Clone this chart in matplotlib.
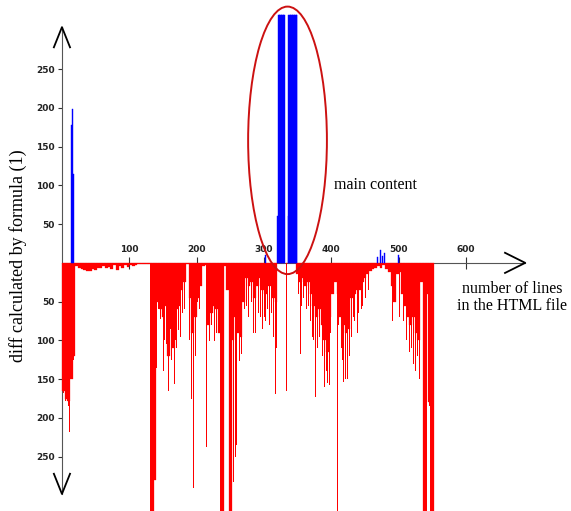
import matplotlib.pyplot as plt
from matplotlib.patches import Ellipse

# red profile: one value every 4 lines (diff below the axis)
red_start = 0
red_step = 4
red_diff = [165, 176, 178, 150, 120, 4, 6, 8, 9, 10, 10, 8, 9, 7, 6, 4, 7, 5, 8, 3,
            9, 4, 6, 3, 5, 3, 4, 3, 1, 1, 1, 1, 1, 330, 280, 50, 60, 70, 55, 120,
            80, 110, 60, 55, 35, 25, 2, 45, 90, 70, 45, 30, 4, 3, 80, 65, 55, 60, 90, 330,
            4, 35, 330, 100, 70, 90, 95, 50, 20, 30, 25, 45, 30, 20, 35, 40, 30, 30, 45, 50,
            0, 0, 0, 0, 0, 0, 0, 15, 25, 20, 30, 25, 40, 55, 70, 60, 80, 100, 115, 70,
            40, 25, 40, 70, 80, 90, 85, 45, 40, 35, 35, 25, 20, 15, 10, 8, 6, 4, 6, 3,
            8, 12, 30, 50, 15, 12, 40, 55, 70, 80, 70, 90, 100, 25, 330, 40, 180, 330]

# single lines that stick out of the profile
spike_lines = [2, 5, 9, 11, 17, 131, 133, 137, 139, 142, 145, 150, 152, 154, 157, 160, 162, 166,
               168, 170, 173, 175, 178, 181, 189, 191, 194, 196, 198, 201, 203, 214, 219, 222,
               226, 229, 234, 237, 249, 254, 257, 259, 263, 266, 271, 274, 277, 281, 284, 286,
               287, 291, 294, 297, 300, 302, 305, 308, 310, 313, 317, 318, 333, 350, 353, 355,
               358, 362, 366, 369, 371, 373, 376, 379, 382, 386, 389, 392, 394, 396, 398, 408,
               410, 414, 416, 418, 420, 421, 423, 424, 426, 429, 432, 434, 438, 440, 444, 446,
               450, 454, 490, 500, 506, 511, 515, 519, 521, 525, 527, 530, 536, 541, 545, 547]
spike_diff = [168, 178, 185, 218, 125, 330, 330, 278, 135, 60, 73, 140, 100, 105, 165, 85, 125, 156,
              99, 110, 86, 95, 65, 60, 100, 175, 290, 60, 120, 50, 60, 237, 101, 80,
              101, 90, 330, 330, 330, 282, 250, 235, 127, 118, 60, 55, 70, 50, 90, 90,
              80, 65, 70, 85, 70, 75, 60, 80, 65, 95, 169, 110, 165, 40, 118, 55,
              45, 60, 55, 75, 95, 100, 173, 110, 95, 120, 160, 140, 155, 158, 90, 330,
              80, 110, 125, 153, 150, 145, 140, 150, 120, 95, 70, 75, 90, 65, 60, 55,
              45, 35, 75, 70, 75, 100, 115, 110, 130, 140, 120, 150, 330, 320, 184, 330]

# blue lines (diff above the axis)
blue_lines = [14, 15, 16, 301, 320, 321, 322, 323, 324, 325, 326, 327, 328, 329, 330,
              335, 336, 337, 338, 339, 340, 341, 342, 343, 344, 345, 346, 347, 348,
              468, 472, 475, 478, 499]
blue_diff = [178, 198, 115, 10, 60, 320, 320, 320, 320, 320, 320, 320, 320, 320, 320,
             60, 320, 320, 320, 320, 320, 320, 320, 320, 320, 320, 320, 320, 320,
             7, 17, 9, 13, 10]

x_ticks = [100, 200, 300, 400, 500, 600]
y_ticks = [-250, -200, -150, -100, -50, 50, 100, 150, 200, 250]

fig = plt.figure(figsize=(5.71, 5.11), dpi=100)
ax = fig.add_axes([0, 0, 1, 1])
ax.set_xlim(-92, 756)
ax.set_ylim(-320, 339)

red_lines = [red_start + red_step * i for i in range(len(red_diff))]
ax.bar(red_lines, [-v for v in red_diff], width=red_step, align='edge',
       color='#ff0000', edgecolor='#ff0000', linewidth=0.2, zorder=3)
ax.bar(spike_lines, [-v for v in spike_diff], width=1.5, align='edge',
       color='#ff0000', linewidth=0, zorder=3)
ax.bar(blue_lines, blue_diff, width=1.5, align='edge',
       color='#0000ff', edgecolor='#0000ff', linewidth=0.3, zorder=3)

# axes through the origin
for s in ['top', 'right']:
    ax.spines[s].set_visible(False)
ax.spines['left'].set_position(('data', 0))
ax.spines['bottom'].set_position(('data', 0))
ax.spines['left'].set_bounds(-298, 304)
ax.spines['bottom'].set_bounds(0, 688)
ax.spines['left'].set_color('#555555')
ax.spines['bottom'].set_color('#555555')
ax.patch.set_visible(False)

ax.set_xticks(x_ticks)
ax.set_xticklabels([str(t) for t in x_ticks])
ax.set_yticks(y_ticks)
ax.set_yticklabels([str(abs(t)) for t in y_ticks])
ax.tick_params(axis='x', direction='inout', length=8, width=0.8, color='#333333',
               pad=-17, labelsize=6.5)
ax.tick_params(axis='y', direction='out', length=3, width=0.8, color='#333333',
               pad=2, labelsize=6.5)
for lab in ax.get_xticklabels() + ax.get_yticklabels():
    lab.set_fontweight('bold')
    lab.set_color('#222222')

# open arrow heads
ax.plot([-12, 0, 12], [278, 304, 278], color='black', lw=1.3, zorder=4)
ax.plot([-12, 0, 12], [-272, -298, -272], color='black', lw=1.3, zorder=4)
ax.plot([658, 688, 658], [13, 0, -13], color='black', lw=1.3, zorder=4)

# main content marker
ax.add_patch(Ellipse((335, 158), 117, 345, fill=False, edgecolor='#cc1111', lw=1.4, zorder=5))

serif = ['Liberation Serif', 'DejaVu Serif']
ax.text(465, 100, 'main content', family=serif, fontsize=11.5, ha='center', va='center')
ax.text(669, -34, 'number of lines', family=serif, fontsize=11.5, ha='center', va='center')
ax.text(669, -56, 'in the HTML file', family=serif, fontsize=11.5, ha='center', va='center')
fig.text(18 / 571, 1 - 256 / 511, 'diff calculated by formula (1)', family=serif,
         fontsize=13, rotation=90, ha='center', va='center')

fig.savefig('out.png', dpi=100)
